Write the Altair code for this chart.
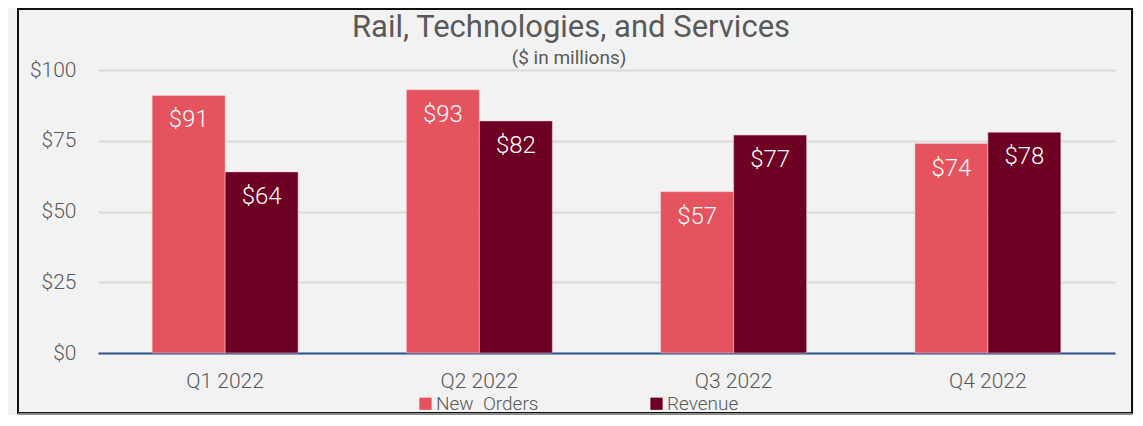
import altair as alt
import pandas as pd

quarters = ["Q1 2022", "Q2 2022", "Q3 2022", "Q4 2022"]
new_orders = [91, 93, 57, 74]
revenue = [64, 82, 77, 78]
series_names = ["New\u00a0 Orders", "Revenue"]
series_colors = ["#E5535E", "#6E0024"]
y_ticks = [0, 25, 50, 75, 100]
title_text = "Rail, Technologies, and Services"
subtitle_text = "($ in millions)"

rows = []
for q, a, b in zip(quarters, new_orders, revenue):
    rows.append({"quarter": q, "series": series_names[0], "value": a})
    rows.append({"quarter": q, "series": series_names[1], "value": b})
df = pd.DataFrame(rows)

FONT = "Roboto"
W, H = 1017, 283

base = alt.Chart(df).encode(
    x=alt.X("quarter:N", sort=quarters,
            scale=alt.Scale(paddingInner=0.426, paddingOuter=0.213),
            axis=alt.Axis(title=None, labelAngle=0, labelFontSize=21, labelFont=FONT,
                          labelFontWeight=300, labelColor="#595959", labelPadding=17,
                          ticks=False, domainColor="#2F5290", domainWidth=2, grid=False)),
    xOffset=alt.XOffset("series:N", sort=series_names),
)

bars = base.mark_bar(stroke="#F5D5D8", strokeWidth=0.5).encode(
    y=alt.Y("value:Q", scale=alt.Scale(domain=[0, 100]),
            axis=alt.Axis(title=None, values=y_ticks, labelExpr="'$' + datum.value",
                          labelFontSize=21, labelFont=FONT, labelFontWeight=300,
                          labelColor="#595959", labelPadding=22, ticks=False, domain=False,
                          gridColor="#D9D9D9", gridWidth=2)),
    color=alt.Color("series:N", sort=series_names,
                    scale=alt.Scale(domain=series_names, range=series_colors),
                    legend=alt.Legend(title=None, orient="none", direction="horizontal",
                                      legendX=318, legendY=324, symbolType="square",
                                      symbolSize=150, symbolStrokeWidth=0, symbolOpacity=1,
                                      labelFontSize=19, labelFont=FONT, labelFontWeight=300,
                                      labelColor="#595959", labelOffset=1, columnPadding=108)),
)

labels = base.mark_text(color="white", fontSize=24, font=FONT, fontWeight=300,
                        baseline="top", dy=13).encode(
    y=alt.Y("value:Q"),
    text=alt.Text("value:Q", format="$d"),
)

frame_df = pd.DataFrame({"k": [0]})
frame = alt.Chart(frame_df).mark_rect(fill=None, stroke="#111111", strokeWidth=2).encode(
    x=alt.value(-80), x2=alt.value(1034), y=alt.value(-61), y2=alt.value(343)
)
frame_bottom = alt.Chart(frame_df).mark_rule(stroke="#8C8C8C", strokeWidth=2).encode(
    x=alt.value(-80), x2=alt.value(1034), y=alt.value(344)
)

title_mark = alt.Chart(pd.DataFrame({"t": [title_text]})).mark_text(
    font=FONT, fontSize=31, color="#595959", align="center", baseline="alphabetic"
).encode(text="t:N", x=alt.value(473), y=alt.value(-33))

subtitle_mark = alt.Chart(pd.DataFrame({"t": [subtitle_text]})).mark_text(
    font=FONT, fontSize=19, color="#595959", align="center", baseline="alphabetic"
).encode(text="t:N", x=alt.value(471), y=alt.value(-6))

chart = alt.layer(bars, labels, frame, frame_bottom, title_mark, subtitle_mark).properties(
    width=W, height=H,
    autosize=alt.AutoSizeParams(type="none"),
    padding={"left": 90, "top": 62, "right": 19, "bottom": 62},
    background="#F2F2F2",
).configure_view(stroke=None)

chart.save("out.html", embed_options={"renderer": "svg", "actions": False})
